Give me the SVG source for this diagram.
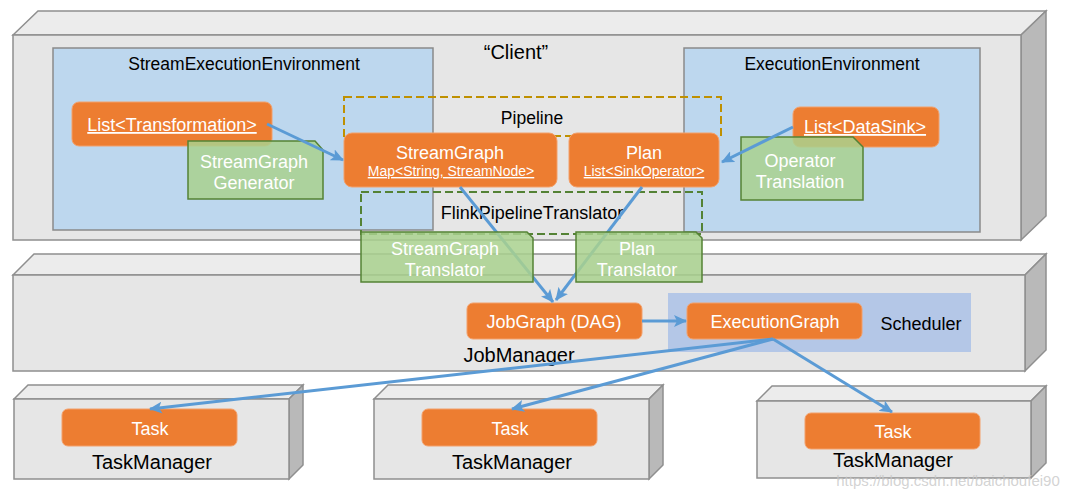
<svg xmlns="http://www.w3.org/2000/svg" width="1075" height="493" viewBox="0 0 1075 493">
<defs>
<style>
.front{fill:#e6e6e6;stroke:#8f8f8f;stroke-width:1.5}
.top{fill:#ececec;stroke:#8f8f8f;stroke-width:1.5}
.side{fill:#b9b9b9;stroke:#8f8f8f;stroke-width:1.5}
.env{fill:#bdd7ee;stroke:#8a8a8a;stroke-width:1.5}
.sched{fill:#b4c7e7}
.node{fill:#ed7d31;stroke:#f3a06a;stroke-width:1}
.note{fill:#a9d18e;fill-opacity:0.85;stroke:#548235;stroke-width:1.5}
.dash-y{fill:none;stroke:#bf9000;stroke-width:2;stroke-dasharray:8 4}
.dash-g{fill:none;stroke:#548235;stroke-width:2;stroke-dasharray:8 4}
.t{font-family:"Liberation Sans",Arial,sans-serif;text-anchor:middle}
.blk{fill:#000}
.wht{fill:#fff}
.u{text-decoration:underline}
.edge{fill:none;stroke:#5b9bd5;stroke-width:3;marker-end:url(#ah)}
</style>
<marker id="ah" markerWidth="14" markerHeight="12" refX="12" refY="6" orient="auto" markerUnits="userSpaceOnUse">
<path d="M0,0 L13,6 L0,12 L3,6 Z" fill="#5b9bd5"/>
</marker>
</defs>

<g id="client">
<polygon class="top" points="13,35 38,11 1046,11 1021,35"/>
<polygon class="side" points="1021,35 1046,11 1046,216 1021,240"/>
<rect class="front" x="13" y="35" width="1008" height="205"/>
<text class="t blk" x="516" y="59" font-size="20">“Client”</text>
</g>

<g id="stream-env">
<rect class="env" x="53" y="48" width="380" height="182"/>
<text class="t blk" x="244" y="70" font-size="17.5">StreamExecutionEnvironment</text>
</g>

<g id="exec-env">
<rect class="env" x="684" y="48" width="296" height="184"/>
<text class="t blk" x="832" y="70" font-size="17.5">ExecutionEnvironment</text>
</g>

<g id="jobmanager">
<polygon class="top" points="13,275 34,254 1046,254 1025,275"/>
<polygon class="side" points="1025,275 1046,254 1046,350 1025,371"/>
<rect class="front" x="13" y="275" width="1012" height="96"/>
<text class="t blk" x="519" y="362" font-size="20">JobManager</text>
</g>

<g id="scheduler">
<rect class="sched" x="668" y="293" width="303" height="59"/>
<text class="t blk" x="921" y="330" font-size="18">Scheduler</text>
</g>

<g id="taskmanager-1">
<polygon class="top" points="14,399 28,385 303,385 289,399"/>
<polygon class="side" points="289,399 303,385 303,465 289,479"/>
<rect class="front" x="14" y="399" width="275" height="80"/>
<text class="t blk" x="152" y="469" font-size="20">TaskManager</text>
</g>

<g id="taskmanager-2">
<polygon class="top" points="374,399 388,385 663,385 649,399"/>
<polygon class="side" points="649,399 663,385 663,465 649,479"/>
<rect class="front" x="374" y="399" width="275" height="80"/>
<text class="t blk" x="512" y="469" font-size="20">TaskManager</text>
</g>

<g id="taskmanager-3">
<polygon class="top" points="757,401 772,386 1046,386 1031,401"/>
<polygon class="side" points="1031,401 1046,386 1046,463 1031,478"/>
<rect class="front" x="757" y="401" width="274" height="77"/>
<text class="t blk" x="893" y="467" font-size="20">TaskManager</text>
</g>

<g id="pipeline">
<rect class="dash-y" x="344" y="97" width="377" height="39"/>
<text class="t blk" x="532" y="124" font-size="17.5">Pipeline</text>
</g>

<g id="flink-pipeline-translator">
<rect class="dash-g" x="361" y="192" width="341" height="42"/>
<text class="t blk" x="532" y="219" font-size="18">FlinkPipelineTranslator</text>
</g>

<g id="list-transformation">
<rect class="node" x="72" y="102" width="200" height="44" rx="7"/>
<text class="t wht u" x="172" y="131" font-size="18">List&lt;Transformation&gt;</text>
</g>

<g id="streamgraph">
<rect class="node" x="344" y="133" width="213" height="54" rx="8"/>
<text class="t wht" x="450" y="159" font-size="18">StreamGraph</text>
<text class="t wht u" x="451" y="176" font-size="14">Map&lt;String, StreamNode&gt;</text>
</g>

<g id="plan">
<rect class="node" x="569" y="133" width="150" height="54" rx="8"/>
<text class="t wht" x="644" y="159" font-size="18">Plan</text>
<text class="t wht u" x="644" y="176" font-size="14">List&lt;SinkOperator&gt;</text>
</g>

<g id="list-datasink">
<rect class="node" x="793" y="107" width="146" height="40" rx="7"/>
<text class="t wht u" x="865" y="133" font-size="18">List&lt;DataSink&gt;</text>
</g>

<g id="jobgraph">
<rect class="node" x="467" y="303" width="175" height="36" rx="6"/>
<text class="t wht" x="554" y="328" font-size="18">JobGraph (DAG)</text>
</g>

<g id="executiongraph">
<rect class="node" x="687" y="303" width="175" height="36" rx="6"/>
<text class="t wht" x="775" y="328" font-size="18">ExecutionGraph</text>
</g>

<g id="task-1">
<rect class="node" x="62" y="409" width="175" height="37" rx="6"/>
<text class="t wht" x="150" y="435" font-size="18">Task</text>
</g>

<g id="task-2">
<rect class="node" x="422" y="409" width="175" height="37" rx="6"/>
<text class="t wht" x="510" y="435" font-size="18">Task</text>
</g>

<g id="task-3">
<rect class="node" x="805" y="413" width="175" height="36" rx="6"/>
<text class="t wht" x="893" y="438" font-size="18">Task</text>
</g>

<g id="streamgraph-generator">
<polygon class="note" points="188,141 315,141 323,150 323,199 188,199"/>
<text class="t wht" x="254" y="168" font-size="18">StreamGraph</text>
<text class="t wht" x="254" y="189" font-size="18">Generator</text>
</g>

<g id="operator-translation">
<polygon class="note" points="741,137 853,137 863,147 863,200 741,200"/>
<text class="t wht" x="800" y="167" font-size="18">Operator</text>
<text class="t wht" x="800" y="188" font-size="18">Translation</text>
</g>

<g id="connectors">
<line class="edge" x1="267" y1="124" x2="343" y2="160"/>
<line class="edge" x1="793" y1="127" x2="722" y2="162"/>
<line class="edge" x1="460" y1="187" x2="553" y2="302"/>
<line class="edge" x1="642" y1="187" x2="556" y2="300"/>
<line class="edge" x1="642" y1="321" x2="686" y2="321"/>
<line class="edge" x1="773" y1="339" x2="150" y2="409"/>
<line class="edge" x1="773" y1="339" x2="512" y2="409"/>
<line class="edge" x1="773" y1="339" x2="892" y2="412"/>
</g>

<g id="streamgraph-translator">
<polygon class="note" points="361,232 527,232 533,238 533,282 361,282"/>
<text class="t wht" x="445" y="255" font-size="18">StreamGraph</text>
<text class="t wht" x="445" y="276" font-size="18">Translator</text>
</g>

<g id="plan-translator">
<polygon class="note" points="576,232 696,232 702,238 702,282 576,282"/>
<text class="t wht" x="637" y="255" font-size="18">Plan</text>
<text class="t wht" x="637" y="276" font-size="18">Translator</text>
</g>

<text class="t" x="948" y="486" font-size="15" fill="#c8c8c8" fill-opacity="0.8">https://blog.csdn.net/baichoufei90</text>
</svg>
